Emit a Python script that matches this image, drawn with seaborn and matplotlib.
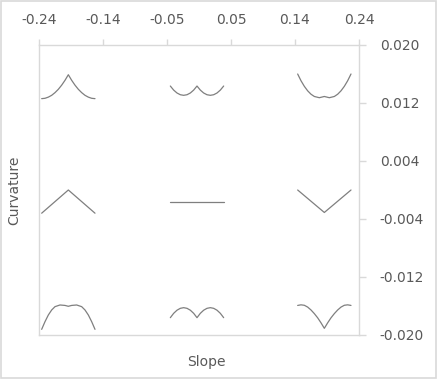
import numpy as np
import pandas as pd
import matplotlib
matplotlib.use("Agg")
import matplotlib.pyplot as plt
import seaborn as sns

# column centres (slope) and slope offsets of each small curve
col_slope = [-0.196, -0.003, 0.188]
off17 = [-0.04, -0.035, -0.03, -0.025, -0.02, -0.015, -0.01, -0.005, 0.0,
         0.005, 0.01, 0.015, 0.02, 0.025, 0.03, 0.035, 0.04]
off_tr = [-0.04, -0.035, -0.03, -0.025, -0.02, -0.015, -0.0075, 0.0,
          0.0075, 0.015, 0.02, 0.025, 0.03, 0.035, 0.04]
off_bl = [-0.04, -0.035, -0.03, -0.025, -0.02, -0.0125, -0.005, 0.0,
          0.005, 0.0125, 0.02, 0.025, 0.03, 0.035, 0.04]
off_v = [-0.04, 0.0, 0.04]
off_flat = [-0.04, 0.04]

# curvature values
top_left = [0.0126, 0.01265, 0.01281, 0.01306, 0.01343, 0.01389, 0.01446, 0.01513, 0.0159,
            0.01513, 0.01446, 0.01389, 0.01343, 0.01306, 0.01281, 0.01265, 0.0126]
top_mid = [0.01434, 0.01378, 0.01338, 0.01314, 0.01306, 0.01314, 0.01338, 0.01378, 0.01434,
           0.01378, 0.01338, 0.01314, 0.01306, 0.01314, 0.01338, 0.01378, 0.01434]
top_right = [0.0160, 0.01507, 0.0143, 0.01368, 0.01321, 0.0129, 0.01273, 0.0129,
             0.01273, 0.0129, 0.01321, 0.01368, 0.0143, 0.01507, 0.0160]
mid_left = [-0.0032, 0.0, -0.0032]
mid_mid = [-0.0017, -0.0017]
mid_right = [0.0, -0.0031, 0.0]
bot_left = [-0.01922, -0.01816, -0.01724, -0.01655, -0.01609, -0.01586, -0.01592, -0.01604,
            -0.01592, -0.01586, -0.01609, -0.01655, -0.01724, -0.01816, -0.01922]
bot_mid = [-0.01761, -0.01701, -0.01658, -0.01632, -0.01623, -0.01632, -0.01658, -0.01701, -0.01761,
           -0.01701, -0.01658, -0.01632, -0.01623, -0.01632, -0.01658, -0.01701, -0.01761]
bot_right = [-0.01592, -0.01584, -0.01590, -0.01615, -0.01655, -0.01705, -0.01763, -0.01832, -0.01908,
             -0.01832, -0.01763, -0.01705, -0.01655, -0.01615, -0.01590, -0.01584, -0.01592]

xticks = [-0.24, -0.144, -0.048, 0.048, 0.144, 0.24]
xtick_labels = ["-0.24", "-0.14", "-0.05", "0.05", "0.14", "0.24"]
yticks = [0.020, 0.012, 0.004, -0.004, -0.012, -0.020]
ytick_labels = ["0.020", "0.012", "0.004", "-0.004", "-0.012", "-0.020"]

curves = [
    (0, off17, top_left), (1, off17, top_mid), (2, off_tr, top_right),
    (0, off_v, mid_left), (1, off_flat, mid_mid), (2, off_v, mid_right),
    (0, off_bl, bot_left), (1, off17, bot_mid), (2, off17, bot_right),
]
rows = []
for k, (col, offs, vals) in enumerate(curves):
    for o, v in zip(offs, vals):
        rows.append({"curve": k, "slope": col_slope[col] + o, "curvature": v})
df = pd.DataFrame(rows)

sns.set_style("white")
plt.rcParams["font.family"] = ["DejaVu Sans"]
txt = "#595959"
grid_c = "#d9d9d9"

fig = plt.figure(figsize=(4.37, 3.79), dpi=100)
ax = fig.add_axes([39 / 437, 1 - 335 / 379, 320 / 437, 290 / 379])

sns.lineplot(data=df, x="slope", y="curvature", units="curve", estimator=None,
             sort=False, color="#7f7f7f", linewidth=0.9, ax=ax, legend=False)

ax.set_xlim(-0.24, 0.24)
ax.set_ylim(-0.020, 0.020)
ax.set_xticks(xticks)
ax.set_xticklabels(xtick_labels)
ax.set_yticks(yticks)
ax.set_yticklabels(ytick_labels)
ax.xaxis.tick_top()
ax.yaxis.tick_right()
ax.tick_params(axis="x", colors=grid_c, labelcolor=txt, labelsize=10,
               length=4, width=1, pad=9, direction="out")
ax.tick_params(axis="y", colors=grid_c, labelcolor=txt, labelsize=10,
               length=5, width=1, pad=10, direction="out")
ax.set_xlabel("")
ax.set_ylabel("")
for s in ax.spines.values():
    s.set_visible(True)
    s.set_color(grid_c)
    s.set_linewidth(1)

fig.text(14 / 437, 1 - 190 / 379, "Curvature", rotation=90, ha="center", va="center",
         color=txt, fontsize=10)
fig.text(206 / 437, 1 - 362 / 379, "Slope", ha="center", va="center",
         color=txt, fontsize=10)

border = plt.Rectangle((0.002, 0.003), 0.995, 0.994, transform=fig.transFigure,
                       fill=False, edgecolor=grid_c, linewidth=1.2)
fig.patches.append(border)

fig.savefig("out.png", dpi=100)
